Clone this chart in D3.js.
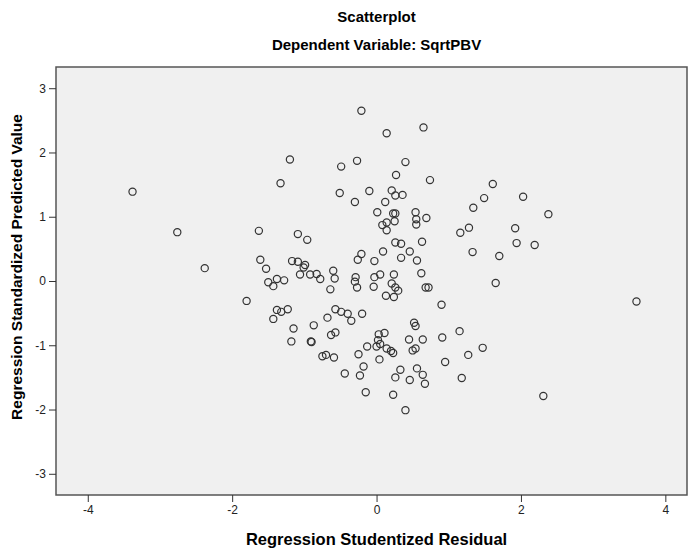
<!DOCTYPE html>
<html>
<head>
<meta charset="utf-8" />
<title>Scatterplot</title>
<style>
    body { margin: 0; background: #fff; }
    svg { display: block; font-family: "Liberation Sans", Arial, sans-serif; }
    .tick text { font-size: 12px; fill: #222; }
    .tick line { stroke: #333; }
</style>
</head>
<body>
<div id="chart"></div>
<script src="https://cdnjs.cloudflare.com/ajax/libs/d3/7.8.5/d3.min.js"></script>
<script>
// studentized residuals (x) and standardized predicted values (y)
var residual = [
    -3.38, -2.76, -2.38, -1.80, -1.63, -1.61, -1.53, -1.50, -1.43, -1.38,
    -1.28, -1.33, -1.20, -1.17, -1.09, -1.09, -1.06, -1.38, -1.32, -1.23,
    -1.43, -1.15, -1.18, -0.99, -1.01, -0.96, -0.92, -0.83, -0.78, -0.87,
    -0.91, -0.90, -0.68, -0.63, -0.57, -0.75, -0.70, -0.59, -0.60, -0.58,
    -0.64, -0.57, -0.49, -0.40, -0.35, -0.20, -0.51, -0.49, -0.30, -0.27,
    -0.21, -0.21, -0.26, -0.29, -0.30, -0.27, -0.44, -0.25, -0.23, -0.18,
    -0.13, -0.15, -0.10, -0.03, -0.03, 0.05, -0.04, 0.01, 0.09, 0.12,
    0.14, 0.14, 0.08, 0.14, 0.21, 0.26, 0.36, 0.23, 0.26, 0.25,
    0.27, 0.40, 0.65, 0.74, 0.54, 0.55, 0.55, 0.69, 0.26, 0.34,
    0.63, 0.34, 0.46, 0.56, 0.24, 0.21, 0.26, 0.30, 0.13, 0.24,
    0.62, 0.68, 0.72, 0.90, 0.03, 0.11, 0.02, 0.05, 0.00, 0.14,
    0.20, 0.23, 0.04, 0.52, 0.54, 0.45, 0.64, 0.54, 0.50, 0.91,
    0.33, 0.56, 0.64, 0.26, 0.46, 0.67, 0.23, 0.40, 0.95, 1.15,
    1.27, 1.18, 1.47, 1.16, 1.28, 1.33, 1.34, 1.49, 1.61, 1.65,
    1.70, 1.92, 1.94, 2.03, 2.19, 2.38, 2.31, 3.60
];
var predicted = [
    1.39, 0.76, 0.20, -0.31, 0.78, 0.33, 0.19, -0.02, -0.08, 0.03,
    0.01, 1.52, 1.89, 0.31, 0.30, 0.73, 0.10, -0.45, -0.48, -0.44,
    -0.59, -0.74, -0.94, 0.25, 0.21, 0.64, 0.10, 0.11, 0.03, -0.69,
    -0.94, -0.95, -0.57, -0.84, -0.80, -1.17, -1.15, -1.19, 0.16, 0.04,
    -0.13, -0.44, -0.48, -0.51, -0.62, -0.51, 1.37, 1.78, 1.23, 1.87,
    2.65, 0.42, 0.33, 0.06, -0.01, -0.10, -1.44, -1.14, -1.47, -1.33,
    -1.02, -1.73, 1.40, 0.31, 0.06, 0.10, -0.09, 1.07, 0.46, 1.23,
    2.30, 0.91, 0.87, 0.79, 1.41, 1.33, 1.34, 1.05, 1.05, 0.93,
    1.65, 1.85, 2.39, 1.57, 1.07, 0.96, 0.88, 0.98, 0.60, 0.58,
    0.61, 0.36, 0.46, 0.32, 0.10, -0.04, -0.10, -0.15, -0.23, -0.25,
    0.12, -0.10, -0.10, -0.37, -0.83, -0.81, -0.92, -0.98, -1.02, -1.05,
    -1.09, -1.12, -1.22, -0.65, -0.70, -0.91, -0.91, -1.05, -1.08, -0.88,
    -1.38, -1.36, -1.46, -1.50, -1.54, -1.60, -1.77, -2.01, -1.26, -0.78,
    -1.15, -1.51, -1.04, 0.75, 0.83, 0.45, 1.14, 1.29, 1.51, -0.03,
    0.39, 0.82, 0.59, 1.31, 0.56, 1.04, -1.79, -0.32
];
var xTicks = [-4, -2, 0, 2, 4];
var yTicks = [-3, -2, -1, 0, 1, 2, 3];

var W = 689, H = 551;
var plotLeft = 56, plotRight = 687, plotTop = 67, plotBottom = 495;

var svg = d3.select("#chart").append("svg")
    .attr("width", W)
    .attr("height", H);

var x = d3.scaleLinear().domain([-4.44, 4.30]).range([plotLeft, plotRight]);
var y = d3.scaleLinear().domain([-3.33, 3.33]).range([plotBottom, plotTop]);

// plot background + frame
svg.append("rect")
    .attr("x", plotLeft)
    .attr("y", plotTop)
    .attr("width", plotRight - plotLeft)
    .attr("height", plotBottom - plotTop)
    .attr("fill", "#f0f0f0")
    .attr("stroke", "#555")
    .attr("stroke-width", 1.5);

// axes (plain hyphen for negatives, like the original)
var fmt = function(d) { return String(d); };

svg.append("g")
    .attr("transform", "translate(0," + plotBottom + ")")
    .call(d3.axisBottom(x).tickValues(xTicks).tickSize(7).tickPadding(3).tickFormat(fmt))
    .call(function(g) { g.select(".domain").remove(); });

svg.append("g")
    .attr("transform", "translate(" + plotLeft + ",0)")
    .call(d3.axisLeft(y).tickValues(yTicks).tickSize(7).tickPadding(3).tickFormat(fmt))
    .call(function(g) { g.select(".domain").remove(); });

// points
var data = residual.map(function(d, i) { return { r: d, p: predicted[i] }; });

svg.append("g")
    .selectAll("circle")
    .data(data)
    .enter()
    .append("circle")
    .attr("cx", function(d) { return x(d.r); })
    .attr("cy", function(d) { return y(d.p); })
    .attr("r", 3.6)
    .attr("fill", "none")
    .attr("stroke", "#333")
    .attr("stroke-width", 1.2);

// titles
var cx = x(0);
svg.append("text")
    .attr("x", cx).attr("y", 22)
    .attr("text-anchor", "middle")
    .attr("font-size", "15px")
    .attr("font-weight", "bold")
    .text("Scatterplot");

svg.append("text")
    .attr("x", cx).attr("y", 50)
    .attr("text-anchor", "middle")
    .attr("font-size", "15px")
    .attr("font-weight", "bold")
    .text("Dependent Variable: SqrtPBV");

svg.append("text")
    .attr("x", cx).attr("y", 545)
    .attr("text-anchor", "middle")
    .attr("font-size", "16.5px")
    .attr("font-weight", "bold")
    .text("Regression Studentized Residual");

svg.append("text")
    .attr("transform", "translate(22,267) rotate(-90)")
    .attr("text-anchor", "middle")
    .attr("font-size", "15.5px")
    .attr("font-weight", "bold")
    .text("Regression Standardized Predicted Value");
</script>
</body>
</html>
